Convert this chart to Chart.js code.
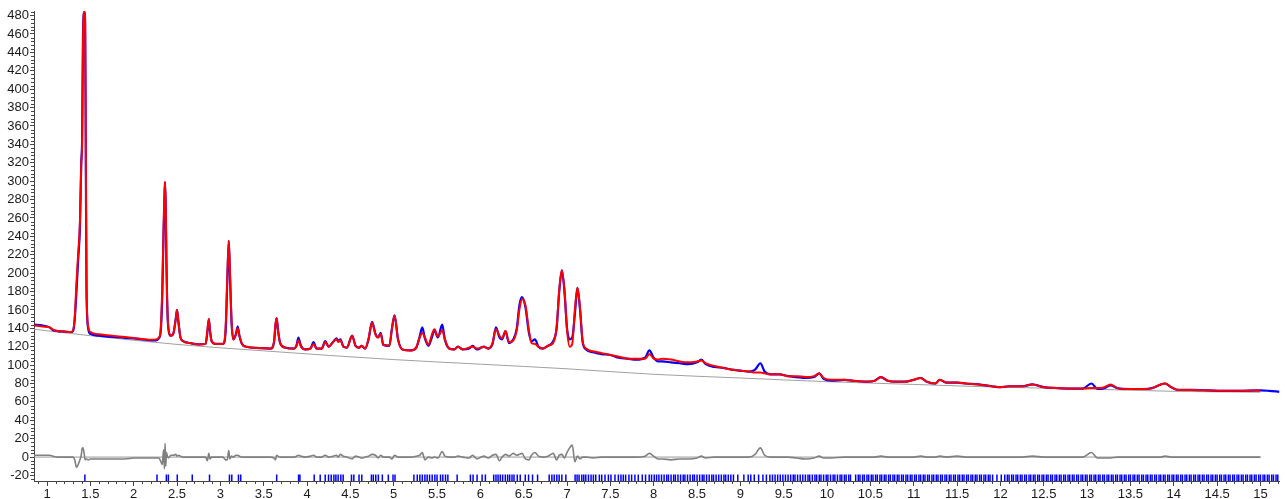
<!DOCTYPE html>
<html>
<head>
<meta charset="utf-8">
<script src="https://cdn.jsdelivr.net/npm/chart.js@4.4.1/dist/chart.umd.min.js"></script>
<style>
  html, body { margin: 0; padding: 0; background: #fff; }
  #wrap { width: 1285px; height: 499px; }
</style>
</head>
<body>
<div id="wrap"><canvas id="chart"></canvas></div>
<script>
// 2theta grid shared by observed / calculated / difference
const twoTheta = [
  0.85, 0.95, 1.03, 1.07, 1.12, 1.2, 1.28, 1.30, 1.32, 1.34,
  1.36, 1.38, 1.395, 1.405, 1.415, 1.43, 1.44, 1.448, 1.456, 1.475,
  1.5, 1.6, 1.7, 1.8, 1.9, 2.0, 2.1, 2.2, 2.26, 2.29,
  2.31, 2.33, 2.345, 2.355, 2.362, 2.37, 2.378, 2.386, 2.40, 2.43,
  2.46, 2.485, 2.50, 2.515, 2.54, 2.57, 2.65, 2.75, 2.83, 2.85,
  2.867, 2.88, 2.9, 2.95, 3.03, 3.06, 3.08, 3.097, 3.11, 3.13,
  3.15, 3.18, 3.20, 3.22, 3.25, 3.3, 3.45, 3.58, 3.62, 3.635,
  3.65, 3.665, 3.69, 3.75, 3.85, 3.88, 3.9, 3.93, 3.98, 4.04,
  4.075, 4.11, 4.17, 4.21, 4.25, 4.3, 4.34, 4.36, 4.385, 4.42,
  4.46, 4.52, 4.56, 4.6, 4.63, 4.67, 4.71, 4.75, 4.79, 4.82,
  4.85, 4.88, 4.95, 4.98, 5.01, 5.05, 5.1, 5.2, 5.26, 5.3,
  5.33, 5.36, 5.4, 5.44, 5.47, 5.51, 5.56, 5.59, 5.64, 5.7,
  5.74, 5.8, 5.87, 5.91, 5.96, 6.01, 6.04, 6.09, 6.14, 6.18,
  6.22, 6.25, 6.29, 6.33, 6.38, 6.42, 6.45, 6.48, 6.52, 6.56,
  6.59, 6.63, 6.67, 6.72, 6.78, 6.84, 6.88, 6.91, 6.94, 6.97,
  7.0, 7.03, 7.06, 7.09, 7.12, 7.15, 7.18, 7.22, 7.3, 7.4,
  7.5, 7.6, 7.7, 7.8, 7.9, 7.95, 8.0, 8.05, 8.1, 8.2,
  8.3, 8.4, 8.5, 8.55, 8.6, 8.7, 8.8, 8.9, 9.0, 9.1,
  9.17, 9.23, 9.28, 9.35, 9.45, 9.55, 9.65, 9.75, 9.85, 9.91,
  9.96, 10.05, 10.2, 10.3, 10.45, 10.55, 10.62, 10.7, 10.8, 10.9,
  11.0, 11.08, 11.15, 11.25, 11.3, 11.38, 11.5, 11.6, 11.75, 11.9,
  12.0, 12.1, 12.25, 12.37, 12.5, 12.65, 12.8, 12.95, 13.05, 13.12,
  13.2, 13.27, 13.35, 13.5, 13.65, 13.75, 13.85, 13.9, 13.97, 14.05,
  14.2, 14.4, 14.55, 14.75, 15.0, 15.1, 15.22
];
const yObs = [
  144, 143, 141, 138, 137, 136.5, 136, 137, 150, 180,
  215, 250, 320, 345, 455, 484, 470, 320, 180, 140,
  134, 132, 131, 130.5, 129.5, 129, 128, 127, 127, 129,
  135, 175, 245, 275, 299, 270, 210, 170, 140, 132,
  135, 150, 160, 148, 130, 126, 124, 122.5, 123, 135,
  150, 138, 126, 123, 123, 135, 190, 235, 200, 145,
  128, 134, 142, 132, 123, 120, 118.5, 118, 125, 142,
  151, 138, 124, 119, 118, 122, 130, 121, 117, 118,
  125, 118, 118, 126, 120, 125, 129, 126, 128, 120,
  119, 132, 121, 119, 121, 118, 128, 147, 134, 130,
  135, 122, 121, 140, 154, 128, 117, 116, 119, 131,
  141, 129, 121, 130, 138, 130, 144, 128, 118, 117,
  120, 117, 118, 121, 117, 119, 120, 118, 123, 141,
  130, 128, 137, 124, 128, 140, 165, 174, 163, 135,
  126, 128, 120, 118, 121, 126, 140, 180, 203, 180,
  140, 128, 130, 155, 184, 160, 125, 117, 114, 112,
  111, 108, 107, 106, 108, 116, 108, 104, 104, 103,
  102, 101, 103, 106, 101, 98, 97, 95, 94, 93,
  95, 102, 93, 90, 90, 88, 87, 86, 87, 91,
  85, 83, 84, 83, 82, 83, 87, 83, 82, 82,
  84, 86, 82, 80, 84, 81, 81, 80, 79, 77,
  76, 77, 77, 79, 76, 75, 74.5, 74.5, 80, 74,
  75, 78, 75, 74, 74, 75, 79, 80, 76, 73,
  73, 72.5, 72, 72, 72.5, 72, 71
];
const yCalc = [
  143, 142, 141, 138.5, 137, 136.5, 136, 137, 152, 190,
  222, 255, 318, 340, 450, 484, 478, 330, 185, 142,
  136, 133.5, 132.5, 131.5, 130.5, 129.5, 128.5, 127.5, 128, 130,
  137, 185, 250, 290, 299, 275, 215, 172, 141, 132,
  135, 150, 160, 148, 130, 126, 124, 122.5, 123, 138,
  150, 137, 126, 123, 123, 140, 195, 235, 205, 147,
  128, 133, 140, 132, 123, 120, 118.5, 118, 126, 144,
  151, 138, 124, 119, 118, 121, 127, 120, 117, 118,
  123, 118, 118, 125, 120, 125, 128, 125, 127, 120,
  119, 132, 121, 119, 121, 118, 129, 146, 133, 130,
  134, 122, 121, 140, 154, 128, 117, 116, 119, 130,
  135, 130, 122, 133, 139, 131, 138, 128, 118, 117,
  120, 117, 119, 120, 118, 119, 120, 118, 124, 139,
  132, 129, 137, 125, 127, 138, 160, 172, 165, 138,
  124, 123, 120, 118, 121, 124, 142, 182, 203, 182,
  138, 120, 123, 160, 184, 162, 126, 118, 115, 113,
  111, 109, 107, 107, 107, 112, 107, 106, 107, 106,
  104, 103, 104, 105, 102, 99, 97, 95, 94, 93,
  92, 92, 91, 90, 90, 88, 88, 87, 88, 91,
  86, 84, 84, 83, 82, 83, 87, 83, 82, 82,
  84, 86, 82, 80, 84, 81, 81, 80, 79, 77,
  76, 77, 77, 79, 76, 75, 74.5, 74.5, 75, 75,
  76, 79, 75, 74, 74, 75, 79, 80, 76, 73,
  73, 72.5, 72, 72, 72.5, null, null
];
const yDiff = [
  2, 2, 2, 1, 0, 0, 0, 0, -3, -11,
  -8, -3, 2, 9, 10, 3, -3, -2, -2, -3,
  -2, -2, -2, -2, -2, -1, -1, -1, -1, -1,
  -4, -8, 8, -13, 15, -10, 5, 2, -1, 2,
  2, 3, 1, 2, 1, 0, 0, 0, 0, -4,
  4, -2, 0, 0, 0, -3, -3, 7, -2, 1,
  0, 2, 2, 1, 0, 0, 0, 0, -1, -3,
  2, 1, 0, 0, 0, 1, 2, 1, 0, 1,
  2, 0, 0, 2, 0, 1, 2, 0, 3, 1,
  0, -2, 1, 0, -1, 0, 1, 3, 2, -1,
  2, 0, 0, -2, 2, 0, 0, 0, 1, 2,
  5, -3, 0, -1, 0, -1, 6, 1, 0, 0,
  1, 0, -1, 2, -2, 0, 1, -1, 2, 3,
  -4, 0, 3, 1, 4, 2, 3, 4, -2, -3,
  2, 5, 1, 0, 1, 4, -3, 2, 3, -1,
  5, 10, 13, -5, 1, -2, 0, 0, -1, 0,
  0, 0, 0, 0, 1, 4, 1, -2, -2, -3,
  -2, -2, -1, 1, -1, 0, 0, 0, 0, 0,
  3, 10, 2, 0, 0, 0, -1, -2, -1, 1,
  -1, -1, 0, 0, 0, 0, 1, 0, 0, 0,
  0, 1, 0, 0, 1, 0, 1, 0, 0, 0,
  0, 0, 0, 1, 0, 0, 0, 0, 5, -1,
  -1, -1, 0, 0, 0, 0, 0, 1, 0, 0,
  0, 0, 0, 0, 0, null, null
];

// background curve
const bkgX = [0.85, 1.5, 2.5, 3.5, 5.0, 6.0, 7.0, 8.0, 9.0, 10.0, 11.0, 12.0, 13.0, 14.0, 15.0];
const bkgY = [139, 132, 122.5, 115.5, 106, 101, 96, 90, 86, 82, 79, 76, 74, 71.5, 70.5];

// reflection positions (hkl tick marks)
const reflections = [
  1.437, 2.269, 2.377, 2.40, 2.503, 2.676, 2.875, 3.105, 3.132, 3.209,
  3.235, 3.65, 3.903, 3.918, 4.083, 4.152, 4.21, 4.248, 4.279, 4.31,
  4.333, 4.359, 4.39, 4.417, 4.513, 4.54, 4.60, 4.632, 4.743, 4.765,
  4.793, 4.823, 4.869, 4.938, 4.992, 5.015, 5.233, 5.272, 5.302, 5.33,
  5.36, 5.386, 5.414, 5.444, 5.475, 5.50, 5.54, 5.567, 5.598, 5.625,
  5.732, 5.885, 5.916, 5.962, 6.02, 6.058, 6.154, 6.18, 6.204, 6.23,
  6.257, 6.288, 6.315, 6.338, 6.365, 6.388, 6.426, 6.46, 6.518, 6.556,
  6.602, 6.66, 6.794, 6.825, 6.852, 6.882, 6.909, 6.94, 6.986, 7.093,
  7.116, 7.139, 7.17, 7.193, 7.216, 7.247, 7.277, 7.304, 7.331, 7.373,
  7.40, 7.438, 7.477, 7.507, 7.553, 7.592, 7.622, 7.649, 7.676, 7.714,
  7.745, 7.783, 7.822, 7.868, 7.906, 7.948, 7.975, 8.006, 8.033, 8.06,
  8.09, 8.12, 8.15, 8.17, 8.20, 8.23, 8.25, 8.28, 8.31, 8.34,
  8.36, 8.39, 8.42, 8.45, 8.47, 8.50, 8.53, 8.56, 8.58, 8.61,
  8.64, 8.67, 8.69, 8.72, 8.75, 8.78, 8.81, 8.83, 8.86, 8.89,
  8.92, 8.97, 9.04, 9.09, 9.12, 9.16, 9.21, 9.26, 9.30, 9.34,
  9.37, 9.40, 9.43, 9.46, 9.49, 9.52, 9.55, 9.58, 9.61, 9.63,
  9.66, 9.69, 9.72, 9.75, 9.78, 9.80, 9.83, 9.86, 9.88, 9.91,
  9.93, 9.96, 9.99, 10.01, 10.04, 10.07, 10.09, 10.12, 10.15, 10.17,
  10.20, 10.22, 10.25, 10.27, 10.33, 10.36, 10.38, 10.41, 10.43, 10.46,
  10.48, 10.51, 10.53, 10.56, 10.58, 10.61, 10.63, 10.66, 10.68, 10.71,
  10.73, 10.76, 10.78, 10.81, 10.83, 10.86, 10.88, 10.91, 10.93, 10.96,
  10.98, 11.01, 11.03, 11.06, 11.08, 11.11, 11.13, 11.16, 11.18, 11.21,
  11.23, 11.26, 11.28, 11.31, 11.33, 11.36, 11.38, 11.41, 11.43, 11.46,
  11.48, 11.51, 11.53, 11.56, 11.58, 11.61, 11.63, 11.66, 11.68, 11.71,
  11.73, 11.76, 11.78, 11.81, 11.83, 11.86, 11.88, 11.91, 11.96, 12.01,
  12.05, 12.08, 12.10,
  12.13, 12.15, 12.18, 12.20, 12.23, 12.25, 12.28, 12.30, 12.33, 12.35,
  12.38, 12.40, 12.43, 12.45, 12.48, 12.50, 12.53, 12.55, 12.58, 12.60,
  12.63, 12.65, 12.68, 12.70, 12.73, 12.75, 12.78, 12.80, 12.83, 12.85,
  12.88, 12.90, 12.93, 12.95, 12.98, 13.00, 13.03, 13.05, 13.08, 13.10,
  13.13, 13.15, 13.18, 13.20, 13.23, 13.25, 13.28, 13.30, 13.33, 13.35,
  13.38, 13.40, 13.43, 13.45, 13.48, 13.50, 13.53, 13.55, 13.58, 13.60,
  13.63, 13.65, 13.68, 13.70, 13.73, 13.75, 13.78, 13.80, 13.83, 13.85,
  13.88, 13.90, 13.93, 13.95, 13.98, 14.00, 14.03, 14.05, 14.08, 14.10,
  14.13, 14.15, 14.18, 14.20, 14.23, 14.25, 14.28, 14.30, 14.33, 14.35,
  14.38, 14.40, 14.43, 14.45, 14.48, 14.50, 14.53, 14.55, 14.58, 14.60,
  14.63, 14.65, 14.68, 14.70, 14.73, 14.75, 14.78, 14.80, 14.83, 14.85,
  14.88, 14.90, 14.93, 14.95, 14.98, 15.00, 15.03, 15.05, 15.08, 15.10,
  15.13, 15.15, 15.18, 15.20
];
const tickRowY = -22.8;

const pts = (xs, ys) => xs.map((x, i) => ({ x: x, y: ys[i] }));

// short minor ticks between the labelled ones
const minorTicks = {
  id: 'minorTicks',
  afterDraw(chart) {
    const { ctx, scales: { x, y } } = chart;
    ctx.save();
    ctx.strokeStyle = '#444';
    ctx.lineWidth = 1;
    ctx.beginPath();
    for (let v = -24; v <= 484; v += 4) {
      if (v % 20 === 0) continue;
      const py = Math.round(y.getPixelForValue(v)) + 0.5;
      ctx.moveTo(y.right - 3, py);
      ctx.lineTo(y.right, py);
    }
    for (let i = 9; i <= 152; i++) {
      if (i % 5 === 0) continue;
      const px = Math.round(x.getPixelForValue(i / 10)) + 0.5;
      ctx.moveTo(px, x.top);
      ctx.lineTo(px, x.top + 3);
    }
    ctx.stroke();
    ctx.restore();
  }
};

const font = { family: 'Liberation Sans, Arial, sans-serif', size: 13 };

new Chart(document.getElementById('chart'), {
  type: 'line',
  data: {
    datasets: [
      { label: 'Calc', data: pts(twoTheta, yCalc), borderColor: '#ff0000', borderWidth: 2, cubicInterpolationMode: 'monotone' },
      { label: 'Obs', data: pts(twoTheta, yObs), borderColor: '#0000ff', borderWidth: 2.2, cubicInterpolationMode: 'monotone' },
      { label: 'Bkg', data: pts(bkgX, bkgY), borderColor: '#a0a0a0', borderWidth: 1, cubicInterpolationMode: 'monotone' },
      { label: 'Diff', data: pts(twoTheta, yDiff), borderColor: '#808080', borderWidth: 1.6, cubicInterpolationMode: 'monotone' },
      { label: 'Zero', data: [{ x: 0.85, y: 0 }, { x: 15.0, y: 0 }], borderColor: '#999999', borderWidth: 1 },
      {
        label: 'Reflections',
        data: reflections.map(r => ({ x: r, y: tickRowY })),
        showLine: false,
        pointStyle: 'line',
        rotation: 90,
        pointRadius: 3.5,
        pointBorderWidth: 1.5,
        pointBorderColor: '#0000ff'
      }
    ]
  },
  options: {
    responsive: true,
    maintainAspectRatio: false,
    animation: false,
    layout: { padding: { top: 11, right: 1, left: 0, bottom: 0 } },
    plugins: { legend: { display: false }, tooltip: { enabled: false } },
    elements: { point: { radius: 0 }, line: { tension: 0 } },
    scales: {
      x: {
        type: 'linear',
        min: 0.85,
        max: 15.22,
        border: { display: true, color: '#444', width: 1 },
        grid: { drawOnChartArea: false, drawTicks: true, tickLength: 5, color: '#444' },
        ticks: {
          stepSize: 0.5, includeBounds: false, autoSkip: false, maxRotation: 0, padding: 1,
          color: '#1a1a1a', font: font,
          callback: v => String(Math.round(v * 10) / 10)
        },
        afterFit: s => { s.height = 18; }
      },
      y: {
        type: 'linear',
        min: -26,
        max: 485,
        border: { display: true, color: '#444', width: 1 },
        grid: { drawOnChartArea: false, drawTicks: true, tickLength: 4, color: '#444' },
        ticks: { stepSize: 20, includeBounds: false, autoSkip: false, padding: 1, color: '#1a1a1a', font: font },
        afterFit: s => { s.width = 34; }
      }
    }
  },
  plugins: [minorTicks]
});
</script>
</body>
</html>
